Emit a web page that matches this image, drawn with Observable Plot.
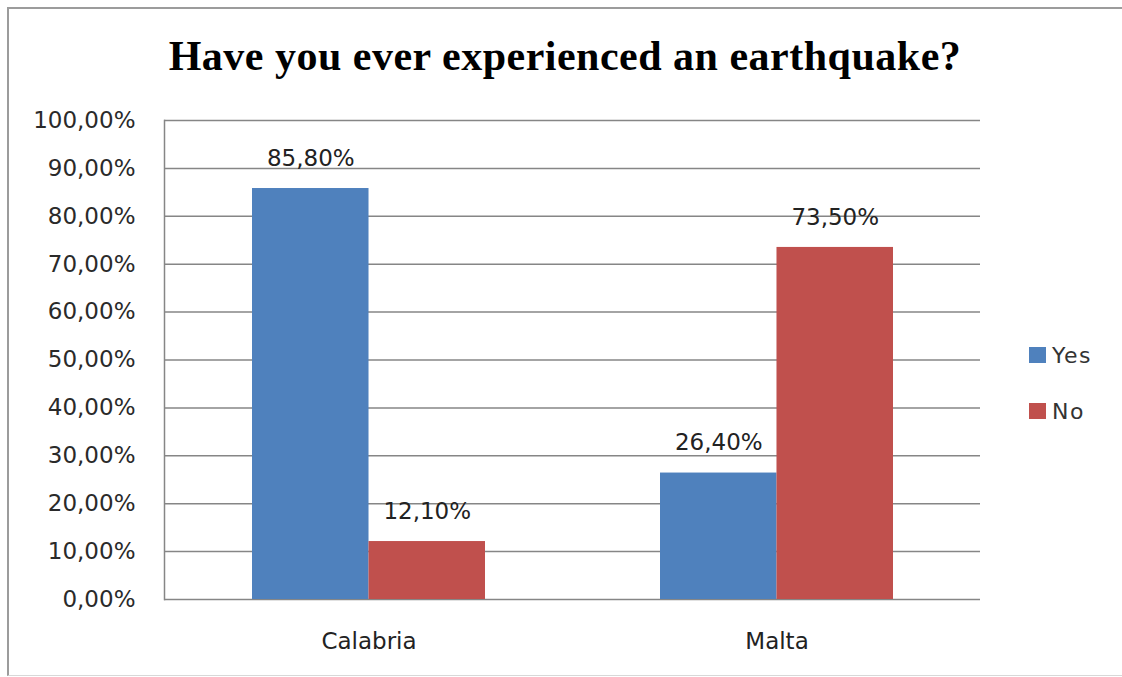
<!DOCTYPE html>
<html>
<head>
<meta charset="utf-8">
<script src="https://cdn.jsdelivr.net/npm/d3@7"></script>
<script src="https://cdn.jsdelivr.net/npm/@observablehq/plot@0.6"></script>
<style>
  html, body { margin: 0; padding: 0; background: #fff; }
  #page { position: relative; width: 1122px; height: 677px; overflow: hidden; background: #fff; }
  #frame { position: absolute; left: 7px; top: 7px; width: 1200px; height: 669px; border-left: 2px solid #9c9c9c; border-top: 2px solid #9c9c9c; border-bottom: 1px solid #d8d8d8; box-sizing: border-box; }
  #title { position: absolute; left: 0; top: 35px; width: 1130px; text-align: center; font: bold 42px "Liberation Serif", serif; line-height: 42px; color: #000; letter-spacing: 0.5px; }
  #chart { position: absolute; left: 0; top: 100px; }
  .lg { position: absolute; left: 1029px; height: 16px; display: flex; align-items: center; font: 22px "DejaVu Sans", sans-serif; color: #333; letter-spacing: 1.5px; }
  .sw { width: 17px; height: 16px; margin-right: 6px; }
</style>
</head>
<body>
<div id="page">
  <div id="frame"></div>
  <div id="title"></div>
  <div id="chart"></div>
  <div id="legend"></div>
</div>
<script>
const titleText = "Have you ever experienced an earthquake?";
const countries = ["Calabria", "Malta"];
const answers = ["Yes", "No"];
const yesValues = [0.858, 0.264];
const noValues = [0.121, 0.735];
const colors = ["#4F81BD", "#C0504D"];
const yTicks = [0, 0.1, 0.2, 0.3, 0.4, 0.5, 0.6, 0.7, 0.8, 0.9, 1.0];

const fmt = v => (v * 100).toFixed(2).replace(".", ",") + "%";

const rows = [];
countries.forEach((c, i) => {
  rows.push({country: c, answer: answers[0], value: yesValues[i]});
  rows.push({country: c, answer: answers[1], value: noValues[i]});
});
const yesRows = rows.filter(d => d.answer === answers[0]);
const noRows = rows.filter(d => d.answer === answers[1]);

const W = 1122, H = 577;
const mL = 164, mR = 142, mT = 20, mB = 78;
const pIn = 0.429, pOut = 0.2145;
const step = (W - mL - mR) / (countries.length - pIn + 2 * pOut);
const bw = step * (1 - pIn);
const half = bw / 2;

const font = "DejaVu Sans, sans-serif";

const plot = Plot.plot({
  width: W,
  height: H,
  marginLeft: mL,
  marginRight: mR,
  marginTop: mT,
  marginBottom: mB,
  style: {fontFamily: font, fontSize: "23px", color: "#222", background: "transparent", overflow: "visible"},
  x: {type: "band", domain: countries, paddingInner: pIn, paddingOuter: pOut, label: null},
  y: {domain: [0, 1], label: null},
  color: {domain: answers, range: colors},
  marks: [
    Plot.ruleY(yTicks, {stroke: "#868686", strokeWidth: 1.5}),
    Plot.frame({anchor: "left", stroke: "#868686", strokeWidth: 1.5}),
    Plot.barY(yesRows, {x: "country", y: "value", fill: d => d.answer, insetRight: half}),
    Plot.barY(noRows, {x: "country", y: "value", fill: d => d.answer, insetLeft: half}),
    Plot.text(yesRows, {x: "country", y: "value", text: d => fmt(d.value), dx: -half / 2, dy: -30, fontSize: 23, fill: "#222", lineAnchor: "middle"}),
    Plot.text(noRows, {x: "country", y: "value", text: d => fmt(d.value), dx: half / 2, dy: -30, fontSize: 23, fill: "#222", lineAnchor: "middle"}),
    Plot.axisY({ticks: yTicks, tickFormat: fmt, tickSize: 0, tickPadding: 29, fontSize: 23, fill: "#2a2a2a", label: null}),
    Plot.axisX({tickSize: 0, tickPadding: 33, fontSize: 23, fill: "#222", label: null})
  ]
});
document.getElementById("chart").appendChild(plot);
document.getElementById("title").textContent = titleText;

const legendTops = [347, 403];
const lg = document.getElementById("legend");
answers.forEach((a, i) => {
  const item = document.createElement("div");
  item.className = "lg";
  item.style.top = legendTops[i] + "px";
  const sw = document.createElement("div");
  sw.className = "sw";
  sw.style.background = colors[i];
  const t = document.createElement("span");
  t.textContent = a;
  item.appendChild(sw);
  item.appendChild(t);
  lg.appendChild(item);
});
</script>
</body>
</html>
